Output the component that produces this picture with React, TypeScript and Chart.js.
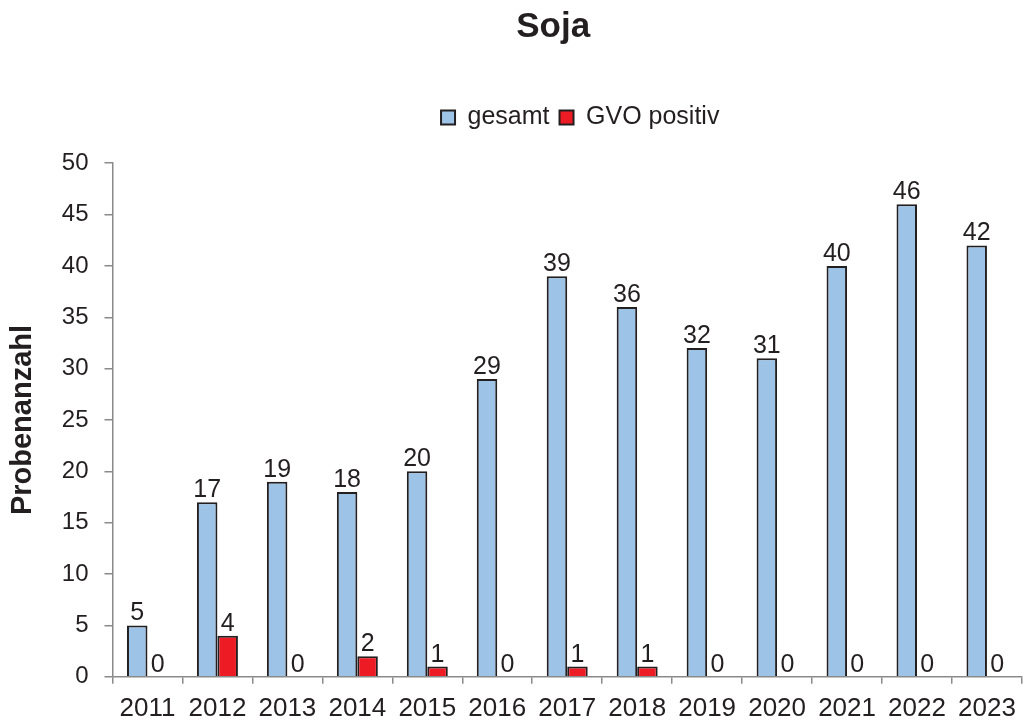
import React, { useEffect, useRef } from "react";
import { Chart, registerables } from "chart.js";

Chart.register(...registerables);

const years = ["2011", "2012", "2013", "2014", "2015", "2016", "2017", "2018", "2019", "2020", "2021", "2022", "2023"];
const gesamt = [5, 17, 19, 18, 20, 29, 39, 36, 32, 31, 40, 46, 42];
const gvoPositiv = [0, 4, 0, 2, 1, 0, 1, 1, 0, 0, 0, 0, 0];
const seriesNames = ["gesamt", "GVO positiv"];
const chartTitle = "Soja";
const yTitle = "Probenanzahl";

const FONT = "'Liberation Sans', Arial, sans-serif";
const TEXT = "#231f20";
const AXIS = "#8a8a8a";

const valueLabels = {
  id: "valueLabels",
  afterDatasetsDraw(chart: any) {
    const ctx = chart.ctx;
    ctx.save();
    ctx.font = `25px ${FONT}`;
    ctx.fillStyle = TEXT;
    ctx.textAlign = "center";
    ctx.textBaseline = "alphabetic";
    chart.data.datasets.forEach((ds: any, i: number) => {
      const meta = chart.getDatasetMeta(i);
      meta.data.forEach((el: any, j: number) => {
        ctx.fillText(String(ds.data[j]), el.x, el.y - 5);
      });
    });
    ctx.restore();
  },
};

// nudge title / legend horizontally to match the reference placement
const headerShift = {
  id: "headerShift",
  afterLayout(chart: any) {
    if (chart.titleBlock) {
      chart.titleBlock.left -= 14;
      chart.titleBlock.right -= 14;
    }
    if (chart.legend) {
      chart.legend.left += 13;
      chart.legend.right += 13;
    }
  },
};

export default function App() {
  const ref = useRef<HTMLCanvasElement>(null);
  useEffect(() => {
    if (!ref.current) return;
    const chart = new Chart(ref.current, {
      type: "bar",
      data: {
        labels: years,
        datasets: [
          {
            label: seriesNames[0],
            data: gesamt,
            backgroundColor: "#9dc3e6",
            borderColor: TEXT,
            borderWidth: 2,
            categoryPercentage: 0.586,
            barPercentage: 1.0,
          },
          {
            label: seriesNames[1],
            data: gvoPositiv,
            backgroundColor: "#ed1c24",
            borderColor: TEXT,
            borderWidth: 2,
            categoryPercentage: 0.586,
            barPercentage: 1.0,
          },
        ],
      },
      options: {
        animation: false,
        responsive: true,
        maintainAspectRatio: false,
        layout: { padding: { left: 0, right: 0, top: 0, bottom: -13 } },
        plugins: {
          title: {
            display: true,
            text: chartTitle,
            fullSize: false,
            color: TEXT,
            font: { family: FONT, size: 35, weight: "bold" },
            padding: { top: 6, bottom: 47 },
          },
          subtitle: {
            display: true,
            text: "",
            weight: 500,
            fullSize: false,
            font: { size: 1 },
            padding: { top: 0, bottom: 22 },
          },
          legend: {
            display: true,
            fullSize: false,
            labels: {
              color: TEXT,
              font: { family: FONT, size: 25 },
              boxWidth: 14,
              boxHeight: 14,
              padding: 10,
            },
          },
          tooltip: { enabled: false },
        },
        scales: {
          x: {
            grid: { display: true, drawOnChartArea: false, drawTicks: true, tickLength: 7, color: AXIS, offset: true, lineWidth: 1.5 },
            border: { display: true, color: AXIS, width: 1.5 },
            ticks: { color: TEXT, font: { family: FONT, size: 26 }, padding: 9, maxRotation: 0, autoSkip: false },
          },
          y: {
            min: 0,
            max: 50,
            grid: { display: true, drawOnChartArea: false, drawTicks: true, tickLength: 8, color: AXIS, lineWidth: 1.5 },
            border: { display: true, color: AXIS, width: 1.5 },
            ticks: { stepSize: 5, color: TEXT, font: { family: FONT, size: 24 }, padding: 16 },
            title: {
              display: true,
              text: yTitle,
              color: TEXT,
              font: { family: FONT, size: 29, weight: "bold" },
              padding: { top: 6, bottom: 5 },
            },
          },
        },
      },
      plugins: [valueLabels, headerShift],
    });
    return () => chart.destroy();
  }, []);
  return (
    <div style={{ position: "fixed", left: 0, top: 0, width: 1025, height: 720, background: "#fff" }}>
      <canvas ref={ref} />
    </div>
  );
}
